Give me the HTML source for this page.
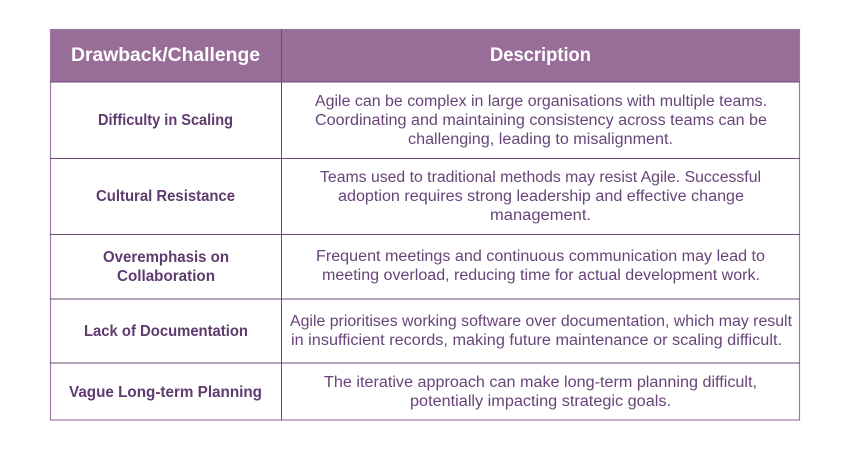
<!DOCTYPE html>
<html><head><meta charset="utf-8"><style>
html,body{margin:0;padding:0;background:#fff;width:850px;height:450px;overflow:hidden}
svg{display:block}
text{font-family:"Liberation Sans",sans-serif;text-anchor:middle}
.b{font-size:15.5px;fill:#68447a}
.d{font-size:15.5px;fill:#5f3a6e;font-weight:bold}
.h{font-size:19px;fill:#fff;font-weight:bold}
</style></head><body>
<svg width="850" height="450" viewBox="0 0 850 450" xmlns="http://www.w3.org/2000/svg">
<rect x="50" y="29" width="750" height="53" fill="#986e99"/>
<g fill="none" stroke="#9a7ba6" stroke-width="1.2">
<rect x="50.5" y="29.5" width="749" height="390.5"/>
</g>
<g stroke="#6c4878" stroke-width="1">
<line x1="50" y1="82" x2="800" y2="82"/>
<line x1="50" y1="158.5" x2="800" y2="158.5"/>
<line x1="50" y1="234.5" x2="800" y2="234.5"/>
<line x1="50" y1="299" x2="800" y2="299"/>
<line x1="50" y1="363" x2="800" y2="363"/>
<line x1="281.5" y1="29" x2="281.5" y2="420"/>
</g>
<text class="h" x="165.5" y="61" textLength="189" lengthAdjust="spacingAndGlyphs">Drawback/Challenge</text>
<text class="h" x="540.5" y="61" textLength="101" lengthAdjust="spacingAndGlyphs">Description</text>

<text class="d" x="165.5" y="125" textLength="135" lengthAdjust="spacingAndGlyphs">Difficulty in Scaling</text>
<text class="d" x="165.5" y="201" textLength="139" lengthAdjust="spacingAndGlyphs">Cultural Resistance</text>
<text class="d" x="166" y="262" textLength="126" lengthAdjust="spacingAndGlyphs">Overemphasis on</text>
<text class="d" x="166" y="281" textLength="98" lengthAdjust="spacingAndGlyphs">Collaboration</text>
<text class="d" x="166" y="336" textLength="164" lengthAdjust="spacingAndGlyphs">Lack of Documentation</text>
<text class="d" x="165.5" y="397" textLength="193" lengthAdjust="spacingAndGlyphs">Vague Long-term Planning</text>

<text class="b" x="541" y="106" textLength="452" lengthAdjust="spacingAndGlyphs">Agile can be complex in large organisations with multiple teams.</text>
<text class="b" x="541" y="125" textLength="452" lengthAdjust="spacingAndGlyphs">Coordinating and maintaining consistency across teams can be</text>
<text class="b" x="540.5" y="144" textLength="265" lengthAdjust="spacingAndGlyphs">challenging, leading to misalignment.</text>
<text class="b" x="540.5" y="182" textLength="441" lengthAdjust="spacingAndGlyphs">Teams used to traditional methods may resist Agile. Successful</text>
<text class="b" x="541" y="201" textLength="406" lengthAdjust="spacingAndGlyphs">adoption requires strong leadership and effective change</text>
<text class="b" x="540.5" y="220" textLength="101" lengthAdjust="spacingAndGlyphs">management.</text>
<text class="b" x="540.5" y="261" textLength="449" lengthAdjust="spacingAndGlyphs">Frequent meetings and continuous communication may lead to</text>
<text class="b" x="541" y="280" textLength="438" lengthAdjust="spacingAndGlyphs">meeting overload, reducing time for actual development work.</text>
<text class="b" x="541" y="326" textLength="502" lengthAdjust="spacingAndGlyphs">Agile prioritises working software over documentation, which may result</text>
<text class="b" x="536.5" y="345" textLength="491" lengthAdjust="spacingAndGlyphs">in insufficient records, making future maintenance or scaling difficult.</text>
<text class="b" x="540.5" y="387" textLength="433" lengthAdjust="spacingAndGlyphs">The iterative approach can make long-term planning difficult,</text>
<text class="b" x="540.5" y="406" textLength="261" lengthAdjust="spacingAndGlyphs">potentially impacting strategic goals.</text>
</svg>
</body></html>
